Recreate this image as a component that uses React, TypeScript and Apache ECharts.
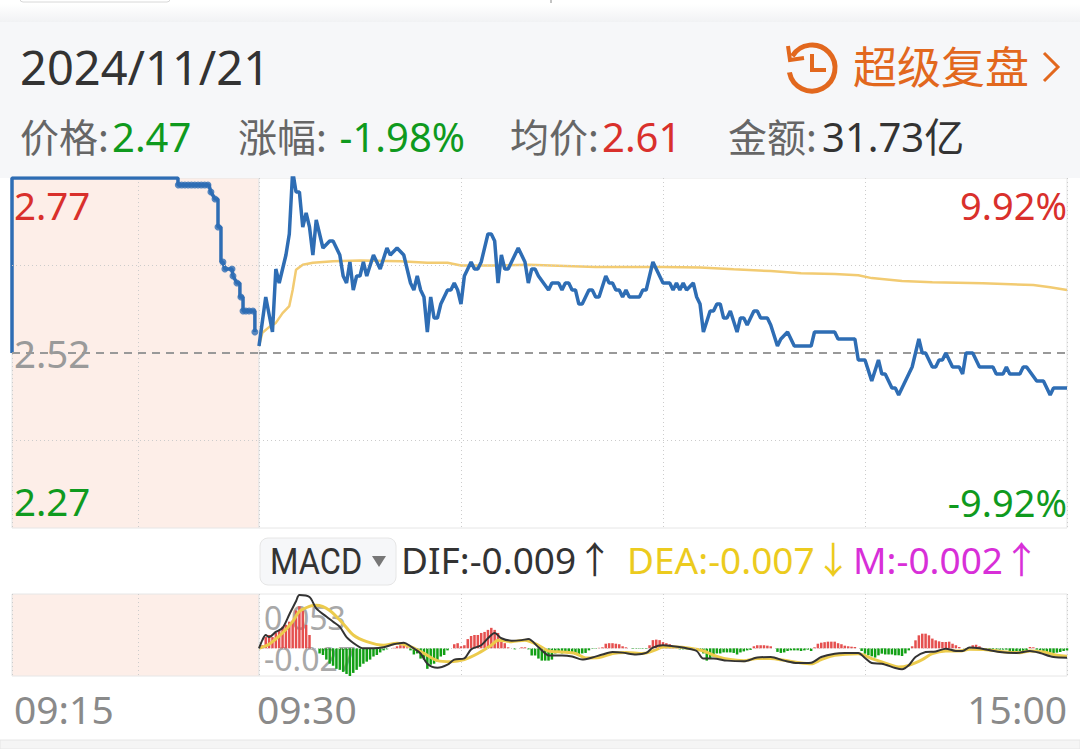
import React, { useEffect, useRef } from "react";
import * as echarts from "echarts";

const dateText = "2024/11/21";
const prevClose = 2.52;
const priceTicks = ["2.77", "2.52", "2.27"];
const pctTicks = ["9.92%", "-9.92%"];
const timeTicks = ["09:15", "09:30", "15:00"];
const midGridPrices = [2.395, 2.645];

// call auction, minutes after 09:15
const preTimes = [0, 0, 10.08, 10.08, 11.96, 12.08, 12.33, 12.51, 12.51, 12.69, 12.69, 12.81, 12.93, 13.36, 13.42, 13.66, 13.84, 13.84, 14.03, 14.03, 14.63, 14.75, 14.75];
const prePrices = [2.52, 2.77, 2.77, 2.76, 2.76, 2.75, 2.74, 2.74, 2.70, 2.70, 2.65, 2.65, 2.64, 2.64, 2.63, 2.62, 2.62, 2.60, 2.60, 2.58, 2.58, 2.58, 2.55];
const preDotTimes = [10.1, 10.3, 10.5, 10.7, 10.9, 11.1, 11.3, 11.5, 11.7, 11.9, 12.08, 12.33, 12.51, 12.81, 12.93, 13.36, 13.42, 13.66, 13.9, 14.03, 14.2, 14.4, 14.63, 14.75];
const preDotPrices = [2.76, 2.76, 2.76, 2.76, 2.76, 2.76, 2.76, 2.76, 2.76, 2.76, 2.75, 2.74, 2.70, 2.65, 2.64, 2.64, 2.63, 2.62, 2.60, 2.58, 2.58, 2.58, 2.58, 2.55];

// continuous session, minutes after 09:30 (trading clock)
const priceMinutes = [0, 2, 4, 5, 6, 8, 9, 10, 11, 12, 13, 14, 15, 16, 17, 19, 21, 22, 24, 25, 26, 27, 28, 29, 30, 31, 32, 34, 36, 38, 39, 41, 43, 45, 46, 47, 48, 49, 50, 51, 52, 53, 54, 56, 57, 58, 59, 60, 61, 62, 63, 64, 65, 66, 68, 69, 70, 71, 72, 73, 74, 77, 79, 80, 81, 82, 83, 86, 87, 89, 90, 91, 92, 93, 94, 95, 96, 98, 99, 100, 101, 103, 104, 105, 106, 107, 108, 109, 110, 113, 114, 115, 117, 120, 122, 123, 124, 125, 126, 127, 129, 130, 131, 132, 134, 135, 136, 137, 138, 139, 140, 142, 143, 144, 145, 147, 148, 149, 151, 152, 154, 155, 157, 159, 164, 165, 171, 172, 177, 178, 180, 182, 184, 185, 186, 188, 189, 190, 194, 196, 197, 198, 200, 201, 202, 203, 204, 206, 208, 209, 210, 212, 214, 218, 219, 221, 222, 223, 226, 227, 228, 231, 233, 235, 236, 240];
const priceValues = [2.53, 2.60, 2.55, 2.64, 2.62, 2.66, 2.69, 2.78, 2.75, 2.75, 2.70, 2.72, 2.70, 2.66, 2.71, 2.67, 2.68, 2.68, 2.66, 2.63, 2.62, 2.65, 2.61, 2.63, 2.63, 2.65, 2.63, 2.66, 2.64, 2.67, 2.66, 2.67, 2.66, 2.62, 2.61, 2.63, 2.61, 2.60, 2.55, 2.60, 2.57, 2.57, 2.59, 2.61, 2.61, 2.62, 2.61, 2.59, 2.63, 2.64, 2.65, 2.64, 2.64, 2.65, 2.69, 2.69, 2.68, 2.62, 2.66, 2.64, 2.64, 2.67, 2.65, 2.62, 2.64, 2.64, 2.63, 2.61, 2.62, 2.62, 2.61, 2.62, 2.62, 2.61, 2.61, 2.59, 2.59, 2.61, 2.61, 2.60, 2.60, 2.63, 2.62, 2.62, 2.61, 2.61, 2.60, 2.61, 2.60, 2.60, 2.61, 2.61, 2.65, 2.62, 2.62, 2.61, 2.62, 2.61, 2.62, 2.61, 2.62, 2.60, 2.59, 2.55, 2.58, 2.58, 2.59, 2.59, 2.57, 2.57, 2.58, 2.55, 2.57, 2.57, 2.56, 2.58, 2.58, 2.57, 2.57, 2.56, 2.53, 2.54, 2.55, 2.53, 2.53, 2.55, 2.55, 2.54, 2.54, 2.51, 2.51, 2.48, 2.51, 2.49, 2.49, 2.47, 2.47, 2.46, 2.50, 2.54, 2.52, 2.52, 2.50, 2.50, 2.51, 2.51, 2.52, 2.50, 2.50, 2.49, 2.52, 2.52, 2.50, 2.50, 2.49, 2.49, 2.50, 2.49, 2.49, 2.50, 2.50, 2.48, 2.48, 2.46, 2.47, 2.47];

const avgMinutes = [0, 1, 3, 5, 7, 9, 10, 11, 13, 16, 22, 30, 42, 50, 56, 60, 70, 80, 100, 120, 131, 141, 152, 161, 171, 178, 182, 191, 200, 215, 230, 235, 240];
const avgValues = [2.53, 2.549, 2.557, 2.563, 2.577, 2.587, 2.61, 2.639, 2.646, 2.649, 2.651, 2.652, 2.651, 2.649, 2.649, 2.645, 2.645, 2.646, 2.643, 2.643, 2.642, 2.6395, 2.637, 2.634, 2.633, 2.631, 2.627, 2.623, 2.621, 2.6195, 2.617, 2.614, 2.61];

const difMinutes = [0, 1, 2, 3, 5, 7, 9, 11, 12, 15, 17, 20, 22, 24, 26, 29, 31, 34, 37, 40, 43, 45, 48, 50, 53, 56, 58, 61, 63, 66, 68, 70, 72, 75, 78, 80, 83, 85, 86, 90, 93, 96, 99, 102, 105, 108, 112, 115, 117, 120, 123, 127, 130, 132, 135, 139, 144, 148, 152, 156, 160, 164, 167, 171, 174, 178, 180, 182, 185, 189, 191, 193, 195, 198, 201, 204, 207, 209, 211, 214, 220, 225, 229, 232, 236, 240];
const difValues = [0, 0.008, 0.013, 0.011, 0.016, 0.02, 0.033, 0.046, 0.052, 0.05, 0.039, 0.031, 0.026, 0.021, 0.011, 0.003, 0, 0, 0.001, 0.004, 0.0055, 0.002, -0.005, -0.015, -0.019, -0.016, -0.011, -0.0098, -0.001, 0.003, 0.0098, 0.015, 0.0098, 0.0075, 0.008, 0.009, 0.001, -0.005, -0.007, -0.007, -0.008, -0.011, -0.009, -0.006, -0.0036, -0.0042, -0.006, -0.0045, 0.0007, 0.003, 0.002, 0, -0.0026, -0.01, -0.01, -0.012, -0.0127, -0.009, -0.0085, -0.012, -0.0143, -0.014, -0.0085, -0.0052, -0.0046, -0.0046, -0.0094, -0.0143, -0.015, -0.0192, -0.0205, -0.0166, -0.0085, -0.0036, -0.003, -0.0003, -0.0026, -0.0026, 0.0007, 0, -0.0036, -0.0046, -0.0026, -0.0046, -0.0085, -0.0091];

const deaMinutes = [0, 3, 7, 10, 12, 15, 17, 21, 25, 28, 32, 37, 41, 45, 49, 53, 57, 61, 65, 69, 71, 75, 79, 83, 86, 90, 94, 97, 101, 105, 109, 114, 118, 120, 124, 128, 132, 136, 140, 144, 148, 152, 156, 160, 164, 167, 171, 178, 182, 185, 190, 193, 197, 200, 204, 208, 211, 216, 222, 226, 229, 233, 237, 240];
const deaValues = [0, 0.004, 0.015, 0.026, 0.036, 0.041, 0.042, 0.037, 0.024, 0.013, 0.0065, 0.003, 0.005, 0.0016, -0.005, -0.012, -0.013, -0.011, -0.005, 0.003, 0.008, 0.0065, 0.008, 0.003, -0.0026, -0.0036, -0.005, -0.0094, -0.009, -0.005, -0.004, -0.005, -0.0013, 0.0013, 0.0013, 0, -0.0026, -0.0078, -0.011, -0.012, -0.01, -0.01, -0.0117, -0.0137, -0.015, -0.011, -0.0068, -0.0052, -0.01, -0.0133, -0.0182, -0.0166, -0.011, -0.0052, -0.0026, -0.0026, -0.001, -0.0013, -0.0036, -0.0042, -0.0026, -0.0036, -0.0068, -0.0078];

// M histogram, one value per minute 0..240
const mValues = [0, 0.003, 0.011, 0.013, 0.011, 0.015, 0.018, 0.021, 0.023, 0.026, 0.027, 0.037, 0.041, 0.037, 0.023, 0.013, 0, 0, -0.005, -0.0065, -0.011, -0.015, -0.017, -0.02, -0.021, -0.023, -0.025, -0.027, -0.024, -0.021, -0.018, -0.015, -0.013, -0.011, -0.008, -0.0065, -0.004, -0.002, -0.001, 0, 0.0005,
  0.002, 0.003, 0.003, 0.001, -0.002, -0.006, -0.005, -0.01, -0.011, -0.02, -0.016, -0.015, -0.013, -0.008, -0.0065, -0.002, 0, 0.004, 0.005, 0.002, 0.003, 0.009, 0.012, 0.013, 0.013, 0.015, 0.016, 0.018, 0.02, 0.018, 0.015, 0.008, 0.005, 0.001, 0, -0.001, 0, 0.001, 0.001, -0.001,
  -0.007, -0.007, -0.01, -0.012, -0.012, -0.012, -0.011, -0.005, -0.0045, -0.005, -0.0045, -0.0045, -0.005, -0.006, -0.006, -0.005, -0.0045, -0.002, -0.0005, -0.0005, 0.0005, 0.001, 0.0045, 0.005, 0.005, 0.0045, 0.004, 0.002, 0.001, 0, -0.0005, -0.0005, -0.0005, -0.0005, -0.0005, 0.003, 0.008, 0.0085, 0.008, 0.006,
  0.005, 0.004, 0.002, 0.001, -0.001, -0.001, -0.001, -0.001, -0.001, -0.001, -0.001, -0.005, -0.012, -0.01, -0.008, -0.005, -0.005, -0.004, -0.004, -0.004, -0.0045, -0.006, -0.004, -0.003, -0.002, -0.0015, 0.002, 0.003, 0.003, 0.003, 0.0026, 0.002, 0, -0.0035, -0.0045, -0.004, -0.0026, -0.002, -0.002, -0.002,
  -0.0026, -0.002, -0.0013, -0.0026, 0.001, 0.0045, 0.0055, 0.006, 0.0065, 0.0065, 0.0065, 0.005, 0.004, 0.0026, 0.002, 0.0016, 0.0013, 0, -0.0026, -0.0052, -0.0068, -0.0078, -0.009, -0.0068, -0.0052, -0.006, -0.006, -0.006, -0.0068, -0.0068, -0.0075, -0.005, -0.002, 0.002, 0.0078, 0.0127, 0.0143, 0.0143, 0.0127, 0.0095,
  0.0078, 0.0068, 0.0062, 0.0062, 0.0065, 0.0045, 0.003, 0.0013, 0, -0.0013, 0, 0.003, 0.0035, 0.002, 0, -0.0013, -0.0013, -0.0013, -0.0013, -0.0013, -0.0013, -0.0013, -0.0026, -0.0026, -0.0026, -0.0026, -0.0026, -0.002, 0.0013, 0.001, -0.0013, -0.002, -0.0026, -0.0036, -0.0042, -0.0045, -0.0042, -0.0036, -0.0026, -0.002];

const zip = (a: number[], b: number[]) => a.map((v, i) => [v, b[i]]);

const FONT = "'Noto Sans', 'Noto Sans CJK SC', sans-serif";
const CJK = "'Noto Sans CJK SC', 'Noto Sans', sans-serif";
const BLUE = "#2e6db4";
const GOLD = "#f2cb72";
const RED = "#d9302c";
const GREEN = "#0f9a1e";
const GRAY = "#9a9a9a";
const DOT: number[] = [1, 3];

const text = (x: number, y: number, s: string, size: number, fill: string, align = "left", font = FONT, z = 3, scaleX = 1) => ({
  type: "text", x, y, z, scaleX, silent: true,
  style: { text: s, fontSize: size, fill, align, verticalAlign: "middle", fontFamily: font },
});

const xAxisFor = (gridIndex: number, max: number, interval: number) => ({
  type: "value", gridIndex, min: 0, max, interval,
  axisLabel: { show: false }, axisTick: { show: false }, axisLine: { show: false },
  splitLine: { show: true, lineStyle: { color: "#cccccc", type: DOT, width: 1 } },
});
const yAxisFor = (gridIndex: number, min: number, max: number) => ({
  type: "value", gridIndex, min, max, scale: true,
  axisLabel: { show: false }, axisTick: { show: false }, axisLine: { show: false }, splitLine: { show: false },
});
const refLines = {
  silent: true, symbol: "none", animation: false, label: { show: false }, precision: 4,
  data: [
    ...midGridPrices.map((p) => ({ yAxis: p, lineStyle: { color: "#cccccc", type: DOT, width: 1 } })),
    { yAxis: prevClose, lineStyle: { color: "#999999", type: [8, 6], width: 2 } },
  ],
};

export default function App() {
  const ref = useRef<HTMLDivElement>(null);
  useEffect(() => {
    document.body.style.margin = "0";
    const chart = echarts.init(ref.current!, undefined, { renderer: "svg" });
    const gridCommon = { show: true, borderColor: "#e6e6e6", borderWidth: 1, containLabel: false };
    chart.setOption({
      animation: false,
      backgroundColor: "#ffffff",
      grid: [
        { ...gridCommon, left: 12, top: 178, width: 247, height: 350, backgroundColor: "#fdeee8" },
        { ...gridCommon, left: 259, top: 178, width: 808, height: 350, backgroundColor: "#ffffff" },
        { ...gridCommon, left: 12, top: 594, width: 247, height: 82, backgroundColor: "#fdeee8" },
        { ...gridCommon, left: 259, top: 594, width: 808, height: 82, backgroundColor: "#ffffff" },
      ],
      xAxis: [xAxisFor(0, 15, 7.68), xAxisFor(1, 240, 60), xAxisFor(2, 15, 7.68), xAxisFor(3, 240, 60)],
      yAxis: [yAxisFor(0, 2.27, 2.77), yAxisFor(1, 2.27, 2.77), yAxisFor(2, -0.027, 0.053), yAxisFor(3, -0.027, 0.053)],
      series: [
        { name: "盘前", type: "line", xAxisIndex: 0, yAxisIndex: 0, data: zip(preTimes, prePrices), showSymbol: false, lineStyle: { color: BLUE, width: 3.5 }, markLine: refLines, z: 4 },
        { name: "盘前点", type: "scatter", xAxisIndex: 0, yAxisIndex: 0, data: zip(preDotTimes, preDotPrices), symbolSize: 7, itemStyle: { color: BLUE }, z: 4 },
        { name: "价格", type: "line", xAxisIndex: 1, yAxisIndex: 1, data: zip(priceMinutes, priceValues), showSymbol: false, lineStyle: { color: BLUE, width: 3.5 }, markLine: refLines, z: 5 },
        { name: "均价", type: "line", xAxisIndex: 1, yAxisIndex: 1, data: zip(avgMinutes, avgValues), showSymbol: false, lineStyle: { color: GOLD, width: 2.5 }, z: 4 },
        {
          name: "M", type: "bar", xAxisIndex: 3, yAxisIndex: 3, barWidth: 2.5,
          data: mValues.map((v, i) => [i, v]),
          itemStyle: { color: (p: any) => (p.value[1] >= 0 ? "#e5504f" : "#12a015") },
          markLine: { silent: true, symbol: "none", label: { show: false }, data: [{ yAxis: 0 }], lineStyle: { color: "#cccccc", type: DOT, width: 1 } },
          z: 3,
        },
        { name: "DEA", type: "line", xAxisIndex: 3, yAxisIndex: 3, data: zip(deaMinutes, deaValues), smooth: 0.3, showSymbol: false, lineStyle: { color: "#eccb4c", width: 3 }, z: 4 },
        { name: "DIF", type: "line", xAxisIndex: 3, yAxisIndex: 3, data: zip(difMinutes, difValues), smooth: 0.3, showSymbol: false, lineStyle: { color: "#333333", width: 2 }, z: 5 },
      ],
      graphic: [
        { type: "rect", z: 0, silent: true, shape: { x: 0, y: 22, width: 1080, height: 156 }, style: { fill: "#f6f7f9" } },
        {
          type: "rect", z: 0, silent: true, shape: { x: 0, y: 4, width: 1080, height: 18 },
          style: { fill: new echarts.graphic.LinearGradient(0, 0, 0, 1, [{ offset: 0, color: "#ffffff" }, { offset: 1, color: "#f1f2f4" }]) },
        },
        { type: "rect", z: 0, silent: true, shape: { x: 20, y: -8, width: 150, height: 10, r: 3 }, style: { fill: "#ffffff", stroke: "#d8d8d8", lineWidth: 1 } },
        { type: "line", z: 0, silent: true, shape: { x1: 551, y1: 0, x2: 551, y2: 3 }, style: { stroke: "#888888", lineWidth: 1 } },
        { type: "rect", z: 0, silent: true, shape: { x: 0, y: 740, width: 1080, height: 9 }, style: { fill: "#f5f5f5", stroke: "#e6e6e6", lineWidth: 1 } },

        text(20, 67, dateText, 47, "#333333"),
        { type: "arc", z: 3, silent: true, shape: { cx: 812, cy: 68, r: 23, startAngle: -2.6, endAngle: 2.95, clockwise: true }, style: { stroke: "#e2681e", lineWidth: 5, fill: "none" } },
        { type: "polyline", z: 3, silent: true, shape: { points: [[788, 46], [790, 60], [804, 58]] }, style: { stroke: "#e2681e", lineWidth: 4, fill: "none" } },
        { type: "polyline", z: 3, silent: true, shape: { points: [[812, 54], [812, 70], [826, 70]] }, style: { stroke: "#e2681e", lineWidth: 4, fill: "none" } },
        text(853, 65, "超级复盘", 44, "#e2681e", "left", CJK),
        { type: "polyline", z: 3, silent: true, shape: { points: [[1044, 53], [1058, 67], [1044, 81]] }, style: { stroke: "#e2681e", lineWidth: 3, fill: "none" } },

        text(20, 135, "价格:", 39, "#666666", "left", CJK),
        text(112, 136, "2.47", 40, GREEN),
        text(238, 135, "涨幅:", 39, "#666666", "left", CJK),
        text(465, 136, "-1.98%", 40, GREEN, "right"),
        text(510, 135, "均价:", 39, "#666666", "left", CJK),
        text(602, 136, "2.61", 40, RED),
        text(728, 135, "金额:", 39, "#666666", "left", CJK),
        text(822, 136, "31.73亿", 40, "#333333"),

        text(14, 205, priceTicks[0], 38.5, RED),
        text(14, 353, priceTicks[1], 38.5, GRAY),
        text(14, 501, priceTicks[2], 38.5, GREEN),
        text(1067, 205, pctTicks[0], 38, RED, "right"),
        text(1067, 502, pctTicks[1], 38, GREEN, "right"),

        { type: "rect", z: 1, silent: true, shape: { x: 260, y: 538, width: 136, height: 47, r: 8 }, style: { fill: "#f6f7f9", stroke: "#e6e6e6", lineWidth: 1 } },
        text(270, 562, "MACD", 37, "#333333", "left", "Roboto, sans-serif", 3, 0.88),
        { type: "polygon", z: 3, silent: true, shape: { points: [[372, 556], [386, 556], [379, 567]] }, style: { fill: "#777777" } },
        text(401, 559, "DIF:-0.009↑", 37, "#333333"),
        text(627, 559, "DEA:-0.007↓", 37, "#eccb1e"),
        text(853, 559, "M:-0.002↑", 37, "#d82fd8"),

        text(264, 617, "0.053", 32, "#a8a8a8", "left", FONT, 1),
        text(264, 658, "-0.027", 32, "#a8a8a8", "left", FONT, 1),

        text(14, 708, timeTicks[0], 39, "#8a8a8a"),
        text(257, 708, timeTicks[1], 39, "#8a8a8a"),
        text(1067, 708, timeTicks[2], 39, "#8a8a8a", "right"),
      ],
    });
    return () => chart.dispose();
  }, []);
  return <div ref={ref} style={{ width: 1080, height: 749 }} />;
}
